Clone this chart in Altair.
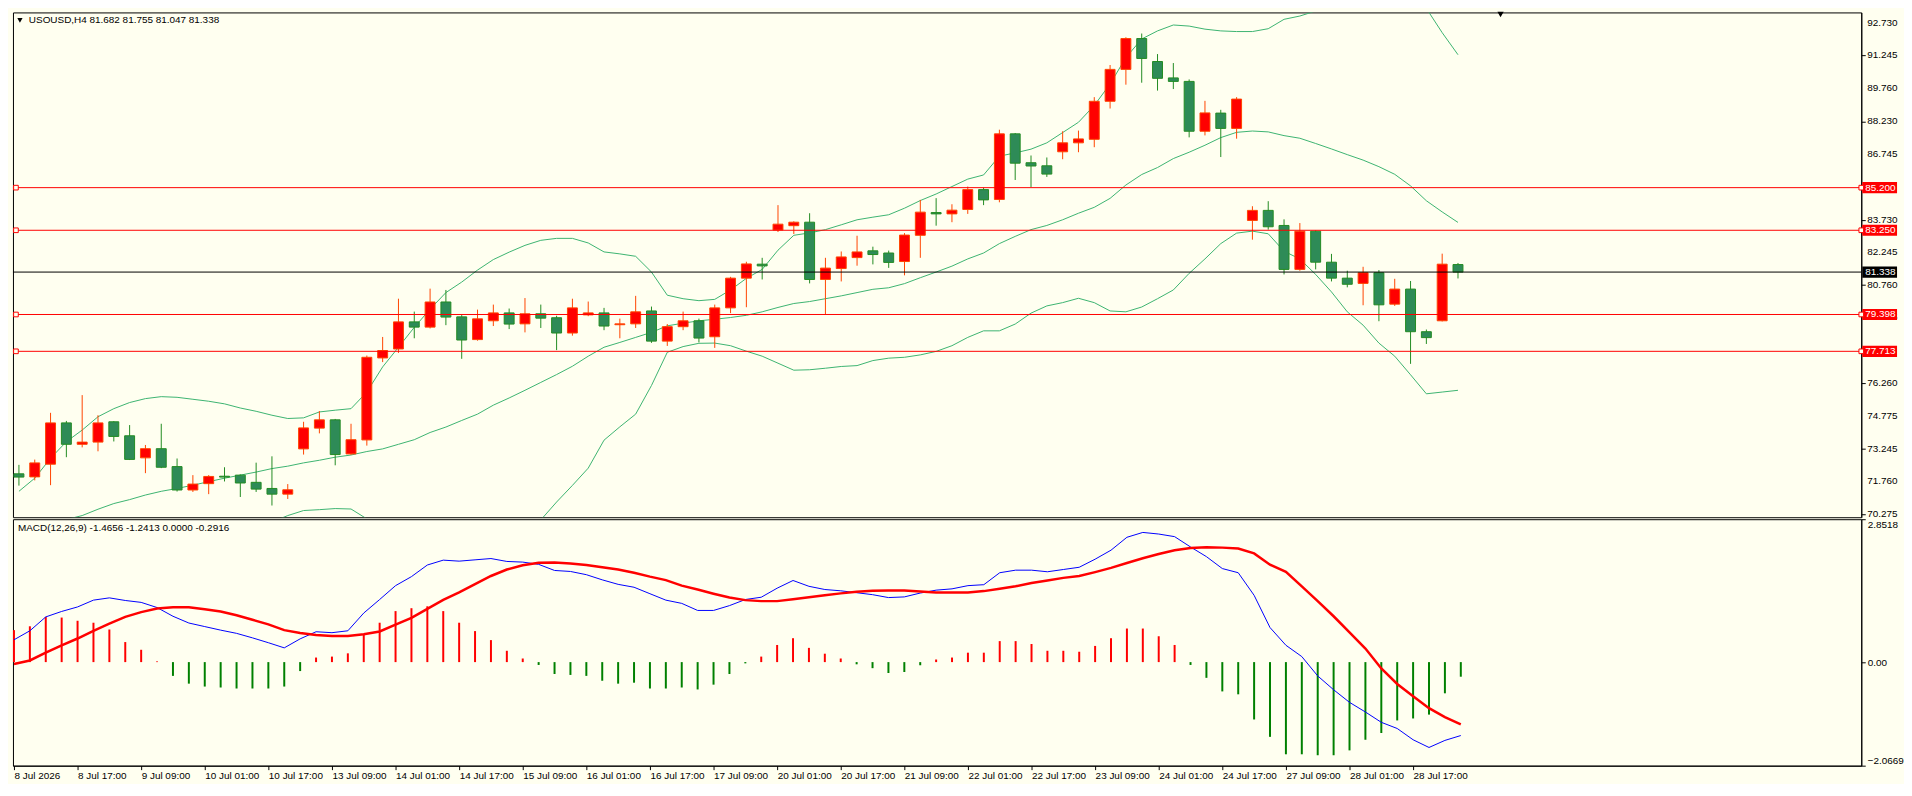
import altair as alt
import pandas as pd

FONT = "Liberation Sans Narrow, Liberation Sans, Arial, sans-serif"
FS = 10
BG = "#FFFFF0"

# ---------------- data ----------------
opens = [72.11, 71.97, 72.55, 74.44, 73.46, 73.56, 74.49, 73.85, 72.84, 73.26,
         72.44, 71.37, 71.66, 72.00, 72.05, 71.72, 71.44, 71.18, 73.25, 74.20,
         74.58, 73.02, 73.66, 77.41, 77.82, 79.06, 78.82, 79.97, 79.29, 78.25,
         79.11, 79.47, 78.97, 79.43, 79.25, 78.55, 79.38, 79.47, 78.93, 78.97,
         79.56, 78.18, 78.84, 79.11, 78.38, 79.70, 81.06, 81.70, 83.26, 83.46,
         83.62, 81.00, 81.50, 82.00, 82.31, 82.21, 81.82, 83.02, 84.06, 84.00,
         84.20, 85.11, 84.66, 87.66, 86.34, 86.20, 86.84, 87.25, 87.41, 89.15,
         90.61, 92.02, 90.97, 90.22, 90.06, 87.78, 88.61, 87.91, 83.70, 84.16,
         83.47, 81.46, 83.21, 81.79, 81.06, 80.82, 81.31, 79.87, 80.56, 78.61,
         79.11, 81.682]
highs = [72.52, 72.76, 74.90, 74.53, 75.71, 74.79, 74.52, 74.34, 73.43, 74.40,
         72.81, 72.05, 72.05, 72.41, 72.08, 72.62, 72.91, 71.64, 74.49, 74.98,
         74.62, 74.40, 77.52, 78.37, 80.12, 79.53, 80.58, 80.52, 79.37, 79.62,
         79.85, 79.67, 80.15, 79.85, 79.34, 80.12, 79.99, 79.70, 79.21, 80.25,
         79.76, 78.96, 79.53, 79.21, 79.85, 81.12, 81.81, 81.99, 84.40, 83.66,
         84.03, 81.99, 82.28, 83.00, 82.50, 82.32, 83.12, 84.64, 84.72, 84.44,
         85.25, 85.20, 87.85, 87.70, 86.67, 86.58, 87.78, 87.81, 89.34, 90.81,
         92.08, 92.25, 91.31, 90.90, 90.15, 89.17, 88.76, 89.34, 84.35, 84.58,
         83.75, 83.58, 83.24, 82.17, 81.40, 81.58, 81.43, 81.03, 80.93, 78.71,
         82.18, 81.755]
lows = [71.57, 71.81, 71.59, 72.87, 73.32, 73.14, 73.59, 72.74, 72.14, 72.37,
        71.30, 71.28, 71.18, 71.76, 71.05, 71.28, 70.66, 70.96, 72.99, 73.96,
        72.50, 72.98, 73.40, 77.22, 77.64, 78.31, 78.76, 78.91, 77.37, 78.20,
        78.87, 78.73, 78.58, 78.78, 77.77, 78.43, 79.32, 78.68, 78.31, 78.78,
        78.10, 77.96, 78.68, 78.12, 77.87, 79.46, 79.73, 81.00, 83.17, 83.08,
        80.82, 79.38, 80.91, 81.63, 81.69, 81.53, 81.19, 81.99, 83.46, 83.62,
        84.00, 84.40, 84.53, 85.55, 85.22, 85.69, 86.50, 86.82, 87.05, 88.82,
        89.91, 90.00, 89.64, 89.71, 87.50, 87.59, 86.60, 87.44, 82.82, 83.28,
        81.23, 81.40, 81.46, 80.91, 80.64, 79.82, 79.09, 79.79, 77.14, 78.05,
        79.08, 81.047]
closes = [71.96, 72.61, 74.44, 73.46, 73.56, 74.44, 73.82, 72.77, 73.26, 72.41,
          71.37, 71.64, 71.99, 71.96, 71.69, 71.41, 71.18, 71.38, 74.21, 74.58,
          72.99, 73.67, 77.44, 77.75, 79.06, 78.82, 79.97, 79.28, 78.23, 79.20,
          79.47, 78.96, 79.43, 79.23, 78.55, 79.70, 79.47, 78.87, 78.97, 79.52,
          78.18, 78.84, 79.11, 78.32, 79.70, 81.06, 81.71, 81.62, 83.53, 83.62,
          81.00, 81.52, 82.03, 82.26, 82.14, 81.78, 83.03, 84.08, 84.00, 84.17,
          85.11, 84.64, 87.66, 86.32, 86.19, 85.82, 87.25, 87.43, 89.15, 90.61,
          92.02, 91.11, 90.20, 90.06, 87.78, 88.62, 87.91, 89.25, 84.16, 83.41,
          81.46, 83.21, 81.79, 81.06, 80.78, 81.31, 79.84, 80.56, 78.61, 78.34,
          81.70, 81.338]

bb_upper = [71.31, 71.91, 72.82, 73.58, 74.11, 74.72, 75.09, 75.37, 75.55, 75.64,
            75.61, 75.52, 75.43, 75.31, 75.12, 74.97, 74.79, 74.64, 74.67, 74.94,
            75.02, 75.09, 75.85, 77.00, 77.90, 78.81, 79.64, 80.40, 80.88, 81.43,
            81.91, 82.25, 82.56, 82.79, 82.88, 82.88, 82.67, 82.26, 82.17, 82.06,
            81.34, 80.28, 80.12, 80.03, 80.09, 80.52, 81.05, 81.46, 82.34, 83.02,
            83.13, 83.28, 83.50, 83.73, 83.85, 83.96, 84.26, 84.61, 84.91, 85.25,
            85.59, 85.78, 86.64, 86.79, 86.96, 87.25, 87.72, 88.19, 88.96, 89.94,
            91.15, 92.00, 92.37, 92.64, 92.59, 92.45, 92.37, 92.34, 92.34, 92.47,
            92.90, 93.05, 93.28, 93.51, 93.90, 94.01, 94.23, 94.13, 93.92, 93.40,
            92.29, 91.28]
bb_middle = [69.45, 69.65, 69.85, 70.02, 70.20, 70.49, 70.75, 70.93, 71.14, 71.31,
             71.44, 71.59, 71.75, 71.91, 72.05, 72.19, 72.35, 72.46, 72.61, 72.73,
             72.87, 72.97, 73.13, 73.25, 73.46, 73.67, 74.00, 74.25, 74.55, 74.84,
             75.25, 75.58, 75.93, 76.29, 76.65, 77.03, 77.49, 77.90, 78.12, 78.35,
             78.58, 78.88, 79.00, 79.11, 79.18, 79.26, 79.36, 79.52, 79.72, 79.90,
             79.99, 80.12, 80.25, 80.40, 80.55, 80.62, 80.81, 81.08, 81.34, 81.61,
             81.94, 82.21, 82.64, 82.97, 83.28, 83.47, 83.73, 84.03, 84.30, 84.71,
             85.32, 85.80, 86.12, 86.53, 86.82, 87.14, 87.49, 87.73, 87.79, 87.75,
             87.58, 87.46, 87.22, 86.97, 86.71, 86.46, 86.16, 85.81, 85.28, 84.60,
             84.09, 83.61]
bb_lower = [67.7, 67.4, 66.9, 66.5, 66.3, 66.3, 66.4, 66.5, 66.7, 67.0,
            67.3, 67.7, 68.1, 68.5, 69.0, 69.4, 69.9, 70.20, 70.43, 70.47,
            70.52, 70.50, 70.05, 69.5, 69.0, 68.5, 68.4, 68.1, 68.2, 68.3,
            68.6, 68.9, 69.3, 70.0, 70.82, 71.58, 72.37, 73.65, 74.26, 74.84,
            76.15, 77.67, 77.93, 78.08, 78.09, 77.97, 77.72, 77.49, 77.17, 76.85,
            76.87, 76.94, 77.02, 77.06, 77.29, 77.40, 77.44, 77.55, 77.71, 77.97,
            78.35, 78.65, 78.65, 78.96, 79.46, 79.79, 79.94, 80.14, 79.94, 79.56,
            79.52, 79.74, 80.12, 80.52, 81.28, 81.94, 82.64, 83.12, 83.21, 83.09,
            82.29, 81.94, 81.23, 80.43, 79.52, 78.91, 78.09, 77.49, 76.64, 75.77,
            75.85, 75.93]

macd_hist = [0.638, 0.715, 0.902, 0.889, 0.825, 0.786, 0.651, 0.400, 0.246, 0.014,
             -0.275, -0.430, -0.488, -0.507, -0.527, -0.527, -0.527, -0.488, -0.179, 0.091,
             0.110, 0.175, 0.548, 0.786, 1.018, 1.076, 1.114, 1.018, 0.786, 0.619,
             0.439, 0.226, 0.072, -0.057, -0.237, -0.256, -0.275, -0.372, -0.430, -0.411,
             -0.527, -0.527, -0.507, -0.546, -0.450, -0.237, -0.025, 0.110, 0.342, 0.477,
             0.284, 0.168, 0.072, -0.044, -0.121, -0.218, -0.198, -0.063, 0.052, 0.091,
             0.188, 0.188, 0.419, 0.419, 0.361, 0.226, 0.226, 0.207, 0.323, 0.477,
             0.670, 0.670, 0.516, 0.342, -0.057, -0.314, -0.585, -0.643, -1.145, -1.492,
             -1.840, -1.840, -1.859, -1.859, -1.762, -1.550, -1.415, -1.164, -1.125, -1.048,
             -0.623, -0.2916]
macd_signal = [-0.037, 0.033, 0.188, 0.336, 0.471, 0.625, 0.767, 0.902, 0.998, 1.069,
               1.095, 1.095, 1.056, 1.011, 0.934, 0.844, 0.754, 0.638, 0.580, 0.542,
               0.522, 0.522, 0.554, 0.612, 0.748, 0.883, 1.063, 1.243, 1.391, 1.558,
               1.719, 1.848, 1.932, 1.983, 1.989, 1.970, 1.938, 1.893, 1.848, 1.784,
               1.706, 1.636, 1.526, 1.449, 1.365, 1.288, 1.237, 1.217, 1.217, 1.256,
               1.295, 1.333, 1.372, 1.404, 1.423, 1.430, 1.430, 1.410, 1.391, 1.391,
               1.391, 1.417, 1.462, 1.513, 1.578, 1.629, 1.681, 1.719, 1.796, 1.880,
               1.977, 2.073, 2.157, 2.234, 2.279, 2.292, 2.285, 2.266, 2.170, 1.944,
               1.803, 1.513, 1.217, 0.915, 0.593, 0.271, -0.126, -0.436, -0.681, -0.919,
               -1.099, -1.2413]
macd_main = [0.445, 0.625, 0.902, 1.011, 1.101, 1.237, 1.282, 1.230, 1.192, 1.089,
             0.915, 0.780, 0.709, 0.638, 0.574, 0.484, 0.387, 0.284, 0.464, 0.606,
             0.587, 0.625, 0.979, 1.249, 1.526, 1.706, 1.938, 2.035, 2.015, 2.041,
             2.067, 2.009, 1.996, 1.951, 1.829, 1.809, 1.745, 1.642, 1.552, 1.494,
             1.365, 1.237, 1.172, 1.031, 1.031, 1.127, 1.249, 1.295, 1.475, 1.629,
             1.513, 1.449, 1.423, 1.385, 1.346, 1.288, 1.301, 1.378, 1.436, 1.462,
             1.526, 1.545, 1.784, 1.835, 1.835, 1.803, 1.848, 1.893, 2.054, 2.234,
             2.491, 2.588, 2.556, 2.504, 2.298, 2.105, 1.867, 1.784, 1.333, 0.690,
             0.336, 0.110, -0.276, -0.552, -0.803, -0.996, -1.202, -1.325, -1.550, -1.704,
             -1.563, -1.4656]

date_labels = ["8 Jul 2026", "8 Jul 17:00", "9 Jul 09:00", "10 Jul 01:00", "10 Jul 17:00",
               "13 Jul 09:00", "14 Jul 01:00", "14 Jul 17:00", "15 Jul 09:00", "16 Jul 01:00",
               "16 Jul 17:00", "17 Jul 09:00", "20 Jul 01:00", "20 Jul 17:00", "21 Jul 09:00",
               "22 Jul 01:00", "22 Jul 17:00", "23 Jul 09:00", "24 Jul 01:00", "24 Jul 17:00",
               "27 Jul 09:00", "28 Jul 01:00", "28 Jul 17:00"]
price_ticks = [92.730, 91.245, 89.760, 88.230, 86.745, 83.730, 82.245, 80.760,
               79.275, 76.260, 74.775, 73.245, 71.760, 70.275]
macd_ticks = [2.8518, 0.0, -2.0669]
level_prices = [85.200, 83.250, 79.398, 77.713]
current_price = 81.338
title_text = "USOUSD,H4  81.682 81.755 81.047 81.338"
macd_text = "MACD(12,26,9) -1.4656 -1.2413 0.0000 -0.2916"

# ---------------- layout ----------------
W = 1860
H1 = 508
H2 = 248
X0 = -0.0625
X1 = X0 + W / 16.0

n = len(opens)
idx = list(range(n))
candles = pd.DataFrame({"i": idx, "o": opens, "h": highs, "l": lows, "c": closes})
candles["dir"] = ["up" if c >= o else "down" for o, c in zip(opens, closes)]
up = candles[candles["dir"] == "up"]
down = candles[candles["dir"] == "down"]

bands = pd.concat([
    pd.DataFrame({"i": idx, "v": bb_upper, "band": "upper"}),
    pd.DataFrame({"i": idx, "v": bb_middle, "band": "middle"}),
    pd.DataFrame({"i": idx, "v": bb_lower, "band": "lower"}),
])
levels = pd.DataFrame({"p": level_prices,
                       "t": ["%.3f" % p for p in level_prices],
                       "col": ["#FF0000"] * len(level_prices)})
cur = pd.DataFrame({"p": [current_price], "t": ["%.3f" % current_price], "col": ["#000000"]})
tags = pd.concat([levels, cur])
tick_df = pd.DataFrame({"p": price_ticks, "t": ["%.3f" % p for p in price_ticks]})

xs = alt.Scale(domain=[X0, X1], nice=False, zero=False)
py = alt.Scale(domain=[70.124, 93.215], nice=False, zero=False)
my = alt.Scale(domain=[-2.0669, 2.8518], nice=False, zero=False)

price_axis = alt.Axis(orient="right", values=price_ticks, grid=False, labels=False,
                      tickSize=4, title=None)

X = alt.X("i:Q", scale=xs, axis=None)

bb_layer = alt.Chart(bands).mark_line(clip=True, color="#3CB371", strokeWidth=1).encode(
    x=X, y=alt.Y("v:Q", scale=py, axis=price_axis, title=None), detail="band:N")

tick_text = alt.Chart(tick_df).mark_text(align="left", baseline="middle", color="black",
                                         font=FONT, fontSize=FS).encode(
    x=alt.value(W + 6), y=alt.Y("p:Q", scale=py, title=None), text="t:N")

level_rules = alt.Chart(levels).mark_rule(color="#FF0000", strokeWidth=1).encode(
    y=alt.Y("p:Q", scale=py, title=None))
cur_rule = alt.Chart(cur).mark_rule(color="#000000", strokeWidth=1).encode(
    y=alt.Y("p:Q", scale=py, title=None))

wick_up = alt.Chart(up).mark_rule(color="#FF4500", strokeWidth=1, clip=True).encode(
    x=X, y=alt.Y("l:Q", scale=py, title=None), y2="h:Q")
wick_down = alt.Chart(down).mark_rule(color="#228B22", strokeWidth=1, clip=True).encode(
    x=X, y=alt.Y("l:Q", scale=py, title=None), y2="h:Q")
body_up = alt.Chart(up).mark_bar(size=10, fill="#FF0000", stroke="#FF4500", strokeWidth=1,
                                 clip=True).encode(
    x=X, y=alt.Y("o:Q", scale=py, title=None), y2="c:Q")
body_down = alt.Chart(down).mark_bar(size=10, fill="#2E8B57", stroke="#228B22", strokeWidth=1,
                                     clip=True).encode(
    x=X, y=alt.Y("o:Q", scale=py, title=None), y2="c:Q")

sq_left = alt.Chart(levels).mark_point(shape="square", size=22, filled=True, fill=BG,
                                       stroke="#FF0000", strokeWidth=1, opacity=1).encode(
    x=alt.value(3), y=alt.Y("p:Q", scale=py, title=None))
BOX = "M-1,-0.32L1,-0.32L1,0.32L-1,0.32Z"
tag_box = alt.Chart(tags).mark_point(shape=BOX, size=35 * 35, filled=True, opacity=1,
                                     strokeWidth=0).encode(
    x=alt.value(W + 18.5), y=alt.Y("p:Q", scale=py, title=None),
    color=alt.Color("col:N", scale=None))
sq_right = alt.Chart(levels).mark_point(shape="square", size=22, filled=True, fill=BG,
                                        stroke="#FF0000", strokeWidth=1, opacity=1).encode(
    x=alt.value(W), y=alt.Y("p:Q", scale=py, title=None))
tag_text = alt.Chart(tags).mark_text(align="left", baseline="middle", color="white",
                                     font=FONT, fontSize=FS).encode(
    x=alt.value(W + 4), y=alt.Y("p:Q", scale=py, title=None), text="t:N")

title_tri = alt.Chart(pd.DataFrame({"a": [0]})).mark_point(
    shape="triangle-down", size=28, filled=True, color="black", opacity=1).encode(
    x=alt.value(7), y=alt.value(8))
title_lbl = alt.Chart(pd.DataFrame({"t": [title_text]})).mark_text(
    align="left", baseline="middle", font=FONT, fontSize=FS, color="black").encode(
    x=alt.value(16), y=alt.value(8), text="t:N")
shift_tri = alt.Chart(pd.DataFrame({"a": [0]})).mark_point(
    shape="triangle-down", size=40, filled=True, color="black", opacity=1).encode(
    x=alt.value(1497), y=alt.value(2))

price = alt.layer(bb_layer, tick_text, wick_up, wick_down, body_up, body_down, level_rules,
                  cur_rule, sq_left, tag_box, sq_right, tag_text, title_tri, title_lbl,
                  shift_tri).properties(width=W, height=H1)

# ---------------- MACD panel ----------------
macd_df = pd.DataFrame({"i": idx, "h": macd_hist, "z": [0.0] * n,
                        "s": macd_signal, "m": macd_main})
macd_df["col"] = ["#FF0000" if v > 0 else "#008000" for v in macd_hist]

label_arr = "[" + ",".join("'%s'" % s for s in date_labels) + "]"
x_axis = alt.Axis(values=list(range(0, 4 * len(date_labels), 4)),
                  labelExpr=label_arr + "[round(datum.value / 4)]",
                  labelAlign="left", labelFlush=False, labelOverlap=False, grid=False,
                  tickSize=4, labelPadding=1, title=None)
macd_axis = alt.Axis(orient="right", values=macd_ticks, grid=False, tickSize=4, labelPadding=2,
                     labelFlush=True, labelOverlap=False, title=None,
                     labelExpr="datum.value == 0 ? '0.00' : format(datum.value, '.4f')")

XM = alt.X("i:Q", scale=xs, axis=x_axis)
hist = alt.Chart(macd_df).mark_rule(strokeWidth=2).encode(
    x=XM, y=alt.Y("h:Q", scale=my, axis=macd_axis, title=None), y2="z:Q",
    color=alt.Color("col:N", scale=None))
sig = alt.Chart(macd_df).mark_line(color="#FF0000", strokeWidth=2.5).encode(
    x=XM, y=alt.Y("s:Q", scale=my, title=None))
main = alt.Chart(macd_df).mark_line(color="#0000FF", strokeWidth=1).encode(
    x=XM, y=alt.Y("m:Q", scale=my, title=None))
macd_lbl = alt.Chart(pd.DataFrame({"t": [macd_text]})).mark_text(
    align="left", baseline="middle", font=FONT, fontSize=FS, color="black").encode(
    x=alt.value(5), y=alt.value(9), text="t:N")

macd = alt.layer(hist, main, sig, macd_lbl).properties(width=W, height=H2)

chart = alt.vconcat(price, macd, spacing=2, bounds="flush").properties(
    padding=0, background=BG
).configure_view(stroke="black", strokeWidth=1, fill=BG).configure_axis(
    labelFont=FONT, labelFontSize=FS, labelColor="black", tickColor="black",
    domainColor="black", domainWidth=1, tickWidth=1, labelOverlap=False
)

chart.save("out.html", embed_options={"renderer": "svg", "actions": False})
